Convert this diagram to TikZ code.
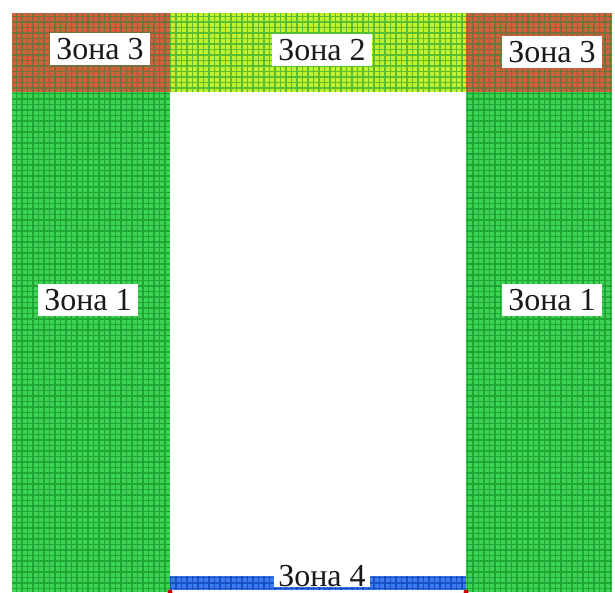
\documentclass[tikz,border=0pt]{standalone}
\usepackage{fontspec}
\setmainfont{Liberation Serif}
\definecolor{gcell}{HTML}{3CD452}
\definecolor{gline}{HTML}{1FA636}
\definecolor{lcell}{HTML}{C4F02C}
\definecolor{lline}{HTML}{56BE30}
\definecolor{bcell}{HTML}{D4603A}
\definecolor{bline}{HTML}{76703C}
\definecolor{ucell}{HTML}{3C7CF0}
\definecolor{uline}{HTML}{1A50C4}
\newcommand{\gridzone}[4]{%
  \fill[#3] #1 rectangle #2;
  \begin{scope}
    \clip #1 rectangle #2;
    \draw[#4, line width=1.8pt] #1 grid[step=5.5pt] #2;
  \end{scope}}
\tikzset{
  zonelabel/.style={fill=white, inner xsep=6pt, inner ysep=5pt,
    font=\fontsize{32}{34}\selectfont, text=black!90}
}
\begin{document}
\begin{tikzpicture}[x=1pt, y=-1pt]
\useasboundingbox (0,0) rectangle (615,593);
\fill[white] (0,0) rectangle (615,593);
\gridzone{(12,13)}{(170,92)}{bcell}{bline}
\gridzone{(170,13)}{(466,92)}{lcell}{lline}
\gridzone{(466,13)}{(612,92)}{bcell}{bline}
\gridzone{(12,92)}{(170,592)}{gcell}{gline}
\gridzone{(466,92)}{(612,592)}{gcell}{gline}
\gridzone{(170,576)}{(466,590)}{ucell}{uline}
\fill[red!80!black] (170,592) circle (2.5);
\fill[red!80!black] (466,592) circle (2.5);
\node[zonelabel] (z3l) at (100,49) {Зона 3};
\node[zonelabel] (z2) at (322,50) {Зона 2};
\node[zonelabel] (z3r) at (552,52) {Зона 3};
\node[zonelabel] (z1l) at (88,300) {Зона 1};
\node[zonelabel] (z1r) at (552,300) {Зона 1};
\node[zonelabel, inner ysep=0pt, inner xsep=4pt] (z4) at (322,576) {Зона 4};
\end{tikzpicture}
\end{document}
